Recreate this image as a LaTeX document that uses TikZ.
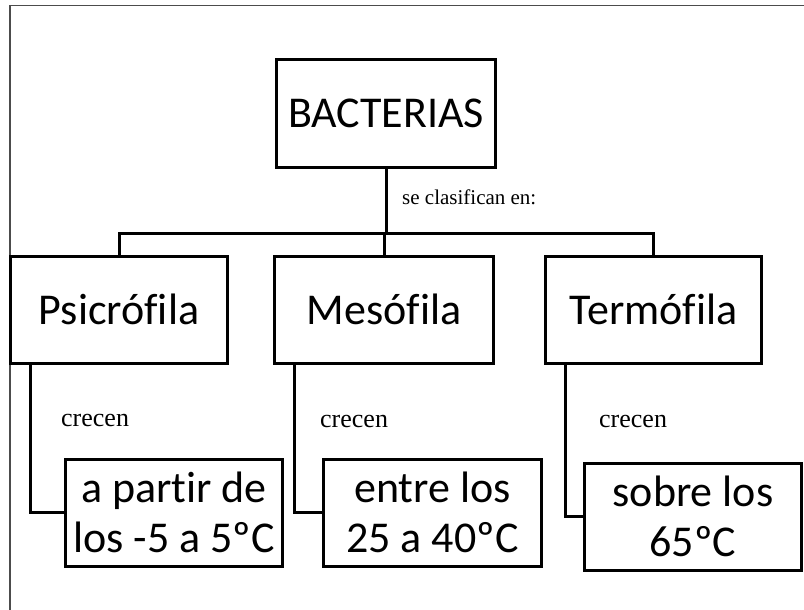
\documentclass[tikz,border=0pt]{standalone}
\usepackage{fontspec}
\setmainfont{Carlito}[Ligatures=NoCommon]
\newfontfamily\lblfont{Liberation Serif}
\begin{document}
\begin{tikzpicture}[x=1pt,y=-1pt,
  box/.style={draw=black,line width=3pt,inner sep=0pt,minimum height=107pt,
    font=\fontsize{44}{50}\selectfont,align=center},
  conn/.style={draw=black,line width=3pt},
  lbl/.style={inner sep=0pt,anchor=base west},
  frame/.style={draw=black!70,line width=1.6pt}]
\useasboundingbox (0,0) rectangle (804,610);
\draw[frame] (10,5.5) rectangle (830,640);
% boxes
\node[box,minimum width=219pt] (B) at (386,113.5) {BACTERIAS};
\node[box,minimum width=217pt] (P) at (119,309.5) {Psicrófila};
\node[box,minimum width=219pt] (M) at (384,309.5) {Mesófila};
\node[box,minimum width=216pt] (T) at (653.5,309.5) {Termófila};
\node[box,minimum width=217pt] (Q1) at (174,512.5) {a partir de\\los -5 a 5ºC};
\node[box,minimum width=218pt] (Q2) at (432.5,512.5) {entre los\\25 a 40ºC};
\node[box,minimum width=217pt] (Q3) at (693,516.5) {sobre los\\65ºC};
% connectors
\coordinate (j) at (386,233);
\draw[conn] (B.south) -- (j);
\draw[conn] (P.north) |- (j) -| (T.north);
\draw[conn] (M.north |- j) -- (M.north);
\draw[conn] ([xshift=21pt]P.south west) |- (Q1.west);
\draw[conn] ([xshift=21pt]M.south west) |- (Q2.west);
\draw[conn] ([xshift=21pt]T.south west) |- (Q3.west);
% labels
\node[lbl,font=\lblfont\fontsize{21}{24}\selectfont] (L0) at (402,204) {se clasifican en:};
\node[lbl,font=\lblfont\fontsize{26}{30}\selectfont] (L1) at (61,426) {crecen};
\node[lbl,font=\lblfont\fontsize{26}{30}\selectfont] (L2) at (320,427) {crecen};
\node[lbl,font=\lblfont\fontsize{26}{30}\selectfont] (L3) at (599,427) {crecen};
\end{tikzpicture}
\end{document}
